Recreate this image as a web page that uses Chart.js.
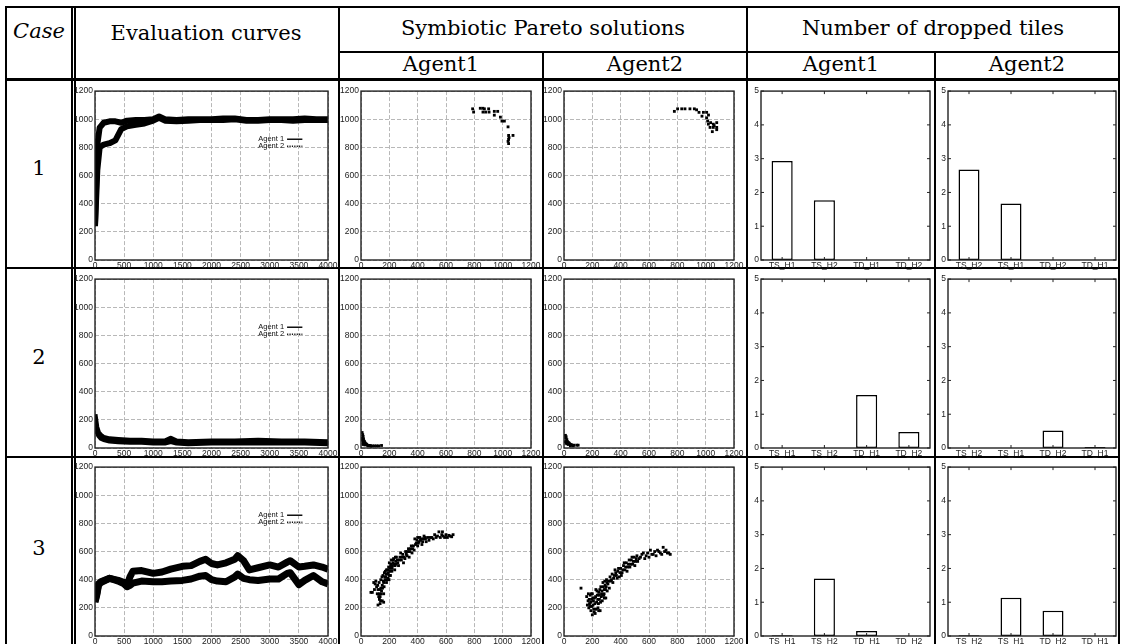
<!DOCTYPE html>
<html>
<head>
<meta charset="utf-8">
<title>Evaluation curves, symbiotic Pareto solutions and dropped tiles</title>
<script src="https://cdn.jsdelivr.net/npm/chart.js@4.4.1/dist/chart.umd.min.js"></script>
<style>
  html, body { margin: 0; padding: 0; background: #fff; }
  #page { position: relative; width: 1122px; height: 644px; overflow: hidden; font-family: "DejaVu Serif", serif; color: #000; }
  .rule { position: absolute; background: #000; }
  .head { position: absolute; font-size: 21px; line-height: 24px; white-space: nowrap; transform: translateX(-50%); }
  canvas { position: absolute; }
</style>
</head>
<body>
<div id="page">
  <!-- table rules -->
  <div class="rule" style="left:5px;top:6px;width:1115px;height:2px"></div>
  <div class="rule" style="left:338px;top:51px;width:782px;height:2px"></div>
  <div class="rule" style="left:5px;top:78px;width:1115px;height:3px"></div>
  <div class="rule" style="left:5px;top:267px;width:1115px;height:2px"></div>
  <div class="rule" style="left:5px;top:456px;width:1115px;height:2px"></div>
  <div class="rule" style="left:5px;top:6px;width:2px;height:638px"></div>
  <div class="rule" style="left:71px;top:6px;width:2px;height:638px"></div>
  <div class="rule" style="left:74px;top:6px;width:2px;height:638px"></div>
  <div class="rule" style="left:338px;top:6px;width:2px;height:638px"></div>
  <div class="rule" style="left:542px;top:52px;width:2px;height:592px"></div>
  <div class="rule" style="left:746px;top:6px;width:2px;height:638px"></div>
  <div class="rule" style="left:934px;top:52px;width:2px;height:592px"></div>
  <div class="rule" style="left:1118px;top:6px;width:2px;height:638px"></div>

  <!-- headers -->
  <div class="head" style="left:39px;top:19px;font-style:italic">Case</div>
  <div class="head" style="left:206px;top:21px">Evaluation curves</div>
  <div class="head" style="left:543px;top:16px">Symbiotic Pareto solutions</div>
  <div class="head" style="left:933px;top:16px">Number of dropped tiles</div>
  <div class="head" style="left:441px;top:52px">Agent1</div>
  <div class="head" style="left:645px;top:52px">Agent2</div>
  <div class="head" style="left:841px;top:52px">Agent1</div>
  <div class="head" style="left:1027px;top:52px">Agent2</div>
  <div class="head" style="left:39px;top:156px">1</div>
  <div class="head" style="left:39px;top:345px">2</div>
  <div class="head" style="left:39px;top:536px">3</div>
</div>

<script>
// ---- evaluation curves (episode, evaluation) ----
const case1Steps = [0, 40, 80, 150, 250, 350, 450, 550, 700, 850, 1000, 1100, 1200, 1400, 1600, 1800, 2000, 2200, 2400, 2600, 2800, 3000, 3200, 3400, 3600, 3800, 4000];
const case1Agent1 = [250, 820, 940, 975, 985, 985, 975, 990, 995, 995, 1000, 1020, 1000, 995, 1000, 1000, 1000, 1005, 1005, 995, 995, 1000, 1000, 1000, 1005, 1000, 1000];
const case1Agent2 = [240, 640, 800, 820, 830, 850, 930, 950, 960, 970, 990, 1010, 990, 985, 990, 995, 995, 995, 1000, 990, 990, 995, 995, 990, 995, 995, 995];

const case2Steps = [0, 30, 60, 100, 150, 250, 400, 600, 800, 1000, 1200, 1300, 1400, 1600, 2000, 2400, 2800, 3200, 3600, 4000];
const case2Agent1 = [240, 150, 110, 90, 75, 65, 60, 55, 55, 50, 50, 70, 50, 45, 50, 50, 55, 50, 50, 45];
const case2Agent2 = [200, 120, 90, 70, 60, 50, 45, 40, 40, 35, 35, 45, 35, 30, 35, 35, 35, 35, 35, 30];

const case3Steps = [0, 30, 60, 100, 250, 400, 500, 550, 600, 650, 800, 1000, 1150, 1300, 1500, 1650, 1800, 1900, 2000, 2100, 2250, 2400, 2450, 2550, 2650, 2800, 3000, 3150, 3300, 3350, 3500, 3600, 3750, 3900, 4000];
const case3Agent1 = [250, 300, 370, 385, 410, 395, 380, 360, 420, 460, 465, 445, 455, 475, 495, 500, 530, 545, 515, 505, 520, 545, 570, 535, 470, 485, 505, 490, 525, 535, 490, 495, 505, 490, 475];
const case3Agent2 = [240, 290, 360, 380, 410, 390, 370, 350, 360, 375, 390, 385, 385, 390, 395, 405, 425, 430, 400, 390, 385, 420, 440, 410, 400, 395, 405, 405, 445, 450, 365, 395, 430, 385, 370];

// ---- symbiotic Pareto solutions [agent reward, partner reward] ----
const pareto1Agent1 = [[788,1074],[795,1051],[842,1078],[860,1078],[871,1074],[901,1074],[861,1051],[880,1051],[904,1051],[941,1056],[965,1056],[941,1029],[984,1015],[995,987],[1012,987],[1038,946],[1042,885],[1073,885],[1042,857],[1042,827],[1038,843],[1045,870]];
const pareto1Agent2 = [[779,1056],[802,1074],[831,1074],[854,1074],[889,1074],[920,1074],[936,1067],[953,1049],[984,1049],[1007,1049],[974,1022],[1007,1010],[1014,987],[1019,965],[1035,976],[1054,965],[1078,976],[1078,942],[1054,942],[1031,942],[1047,912],[1078,926],[1060,955],[1020,1030]];
const pareto2Agent1 = [[8,110],[12,95],[15,82],[8,70],[18,65],[12,55],[20,50],[25,45],[15,40],[30,35],[35,30],[40,25],[45,20],[55,18],[65,18],[80,15],[95,15],[110,15],[125,15],[145,18],[20,30],[28,22],[50,15],[70,12],[10,60],[15,25]];
const pareto2Agent2 = [[10,90],[15,80],[12,70],[20,60],[18,50],[25,45],[30,40],[35,35],[40,30],[30,25],[50,25],[55,20],[70,20],[90,20],[100,20],[45,15],[65,15],[20,30],[8,45],[15,35]];
const pareto3Agent1 = [[70,310],[80,310],[90,380],[100,370],[110,350],[120,330],[120,220],[130,260],[130,300],[135,280],[140,340],[140,400],[145,320],[150,250],[150,360],[155,430],[160,300],[160,380],[165,450],[170,400],[175,420],[180,470],[180,380],[185,440],[190,410],[195,490],[200,430],[200,520],[205,460],[210,500],[215,540],[220,480],[225,520],[230,550],[240,500],[245,530],[250,560],[260,520],[270,540],[280,590],[290,560],[300,520],[310,550],[320,580],[330,600],[340,560],[350,620],[360,590],[370,640],[375,610],[380,690],[390,660],[400,640],[400,700],[410,670],[420,680],[430,650],[440,690],[450,700],[460,670],[480,680],[500,700],[510,690],[520,720],[540,710],[550,740],[560,700],[580,710],[600,720],[610,700],[630,710],[650,720],
    [95,330],[105,390],[115,300],[118,360],[125,280],[128,380],[133,330],[138,250],[142,300],[148,420],[152,340],[158,390],[163,350],[168,420],[172,460],[178,440],[183,400],[188,470],[193,450],[198,400],[203,480],[208,430],[213,510],[218,460],[222,500],[228,540],[233,510],[238,470],[243,560],[248,510],[255,540],[265,500],[275,560],[285,540],[295,580],[305,560],[315,600],[325,570],[335,620],[345,600],[355,640],[365,620],[385,650],[395,680],[405,660],[415,700],[425,690],[435,670],[445,710],[455,690],[470,700],[490,700],[530,700],[570,720],[590,700],[620,715],[640,705],[575,740],[160,240],[135,230]];
const pareto3Agent2 = [[120,340],[160,280],[170,250],[175,200],[180,230],[185,290],[190,180],[195,260],[200,150],[200,300],[205,220],[210,190],[215,270],[220,160],[225,330],[230,240],[235,290],[240,200],[245,310],[250,260],[255,180],[260,350],[265,300],[270,250],[275,380],[280,290],[285,330],[290,360],[295,270],[300,400],[305,320],[310,370],[320,340],[325,420],[330,390],[340,440],[350,410],[360,470],[370,430],[380,460],[390,420],[400,480],[410,450],[420,500],[430,470],[440,520],[450,490],[460,540],[470,510],[480,560],[490,530],[500,500],[510,550],[520,530],[540,560],[560,590],[570,550],[580,570],[600,560],[620,580],[640,600],[650,570],[660,610],[680,590],[700,630],[710,600],[730,590],[750,580],
    [165,220],[172,300],[178,260],[183,210],[188,240],[193,300],[198,210],[203,270],[208,250],[213,170],[218,230],[223,280],[228,190],[233,320],[238,260],[243,230],[248,290],[253,330],[258,240],[263,280],[268,320],[273,290],[278,350],[283,300],[288,390],[293,330],[298,350],[303,380],[315,390],[335,400],[345,380],[355,430],[365,450],[375,410],[385,480],[395,450],[405,430],[415,470],[425,520],[435,490],[445,460],[455,510],[465,490],[475,540],[485,510],[495,560],[505,530],[515,570],[530,550],[550,580],[590,590],[610,610],[630,580],[670,600],[690,580],[720,610],[740,590],[285,270],[245,180]];

// ---- number of dropped tiles ----
const tileNamesAgent1 = ['TS_H1', 'TS_H2', 'TD_H1', 'TD_H2'];
const tileNamesAgent2 = ['TS_H2', 'TS_H1', 'TD_H2', 'TD_H1'];
const tiles1Agent1 = [2.93, 1.77, 0, 0];
const tiles1Agent2 = [2.68, 1.67, 0, 0];
const tiles2Agent1 = [0, 0, 1.57, 0.47];
const tiles2Agent2 = [0, 0, 0.52, 0.03];
const tiles3Agent1 = [0.02, 1.70, 0.15, 0.01];
const tiles3Agent2 = [0.02, 1.13, 0.75, 0];

const tickFont = { family: 'Liberation Sans', size: 8.5 };
const page = document.getElementById('page');

// gnuplot style box round the plot, with inward tick marks if asked
const framePlugin = {
    id: 'frame',
    afterDraw(chart, args, opts) {
        const ctx = chart.ctx;
        const a = chart.chartArea;
        ctx.save();
        ctx.strokeStyle = '#222';
        ctx.lineWidth = 1.4;
        ctx.setLineDash([]);
        ctx.strokeRect(a.left, a.top, a.right - a.left, a.bottom - a.top);
        if (opts.ticks) {
            ctx.lineWidth = 1;
            ctx.beginPath();
            const xs = chart.scales.x, ys = chart.scales.y;
            xs.ticks.forEach((t, i) => {
                const px = xs.getPixelForTick(i);
                ctx.moveTo(px, a.bottom); ctx.lineTo(px, a.bottom - 3);
                ctx.moveTo(px, a.top); ctx.lineTo(px, a.top + 3);
            });
            ys.ticks.forEach((t, i) => {
                const py = ys.getPixelForTick(i);
                ctx.moveTo(a.left, py); ctx.lineTo(a.left + 3, py);
                ctx.moveTo(a.right, py); ctx.lineTo(a.right - 3, py);
            });
            ctx.stroke();
        }
        ctx.restore();
    }
};

// key drawn inside the plot like gnuplot does
const keyPlugin = {
    id: 'key',
    afterDatasetsDraw(chart, args, opts) {
        const ctx = chart.ctx;
        const xs = chart.scales.x, ys = chart.scales.y;
        ctx.save();
        ctx.font = '7.5px "Liberation Sans"';
        ctx.fillStyle = '#111';
        ctx.strokeStyle = '#111';
        ctx.textAlign = 'right';
        ctx.textBaseline = 'middle';
        chart.data.datasets.forEach((ds, i) => {
            const y = ys.getPixelForValue(opts.y[i]);
            const x = xs.getPixelForValue(opts.x);
            ctx.fillText(ds.label, x - 2, y);
            ctx.beginPath();
            ctx.lineWidth = 1.5;
            ctx.setLineDash(ds.keyDash);
            ctx.moveTo(x + 1, y);
            ctx.lineTo(xs.getPixelForValue(opts.x2), y);
            ctx.stroke();
        });
        ctx.restore();
    }
};

function addCanvas(plotLeft, plotTop, plotW, plotH, m) {
    const c = document.createElement('canvas');
    c.width = plotW + m.l + m.r;
    c.height = plotH + m.t + m.b;
    c.style.left = (plotLeft - m.l) + 'px';
    c.style.top = (plotTop - m.t) + 'px';
    page.appendChild(c);
    return c;
}

function linearAxis(min, max, step, size, horizontal, showGrid) {
    return {
        type: 'linear',
        min: min,
        max: max,
        afterFit(scale) {
            if (horizontal) scale.height = size; else scale.width = size;
        },
        ticks: {
            stepSize: step,
            font: tickFont,
            color: '#222',
            padding: horizontal ? 1 : 2,
            maxRotation: 0,
            autoSkip: false,
            callback: (v) => String(v)
        },
        grid: { display: showGrid, color: '#b8b8b8', lineWidth: 1, drawTicks: false },
        border: { display: false, dash: [4, 2] }
    };
}

function evalChart(left, top, steps, agent1, agent2, lw) {
    const ctx = addCanvas(left, top, 233, 170, { l: 24, t: 6, r: 12, b: 14 });
    const line = (vals) => steps.map((x, i) => ({ x: x, y: vals[i] }));
    new Chart(ctx, {
        type: 'scatter',
        data: {
            datasets: [{
                label: 'Agent 1',
                data: line(agent1),
                showLine: true,
                borderColor: '#000',
                borderWidth: lw,
                borderJoinStyle: 'round',
                pointRadius: 0,
                keyDash: []
            }, {
                label: 'Agent 2',
                data: line(agent2),
                showLine: true,
                borderColor: '#000',
                borderWidth: lw,
                borderJoinStyle: 'round',
                pointRadius: 0,
                keyDash: [1.2, 1.2]
            }]
        },
        options: {
            responsive: false,
            animation: false,
            events: [],
            layout: { padding: { top: 6, right: 12 } },
            scales: {
                x: linearAxis(0, 4000, 500, 14, true, true),
                y: linearAxis(0, 1200, 200, 24, false, true)
            },
            plugins: {
                legend: { display: false },
                tooltip: { enabled: false },
                frame: {},
                key: { x: 3280, x2: 3560, y: [858, 808] }
            }
        },
        plugins: [framePlugin, keyPlugin]
    });
}

function paretoChart(left, top, points) {
    const ctx = addCanvas(left, top, 170, 170, { l: 24, t: 6, r: 12, b: 14 });
    new Chart(ctx, {
        type: 'scatter',
        data: {
            datasets: [{
                data: points.map(p => ({ x: p[0], y: p[1] })),
                pointStyle: 'rect',
                pointRadius: 2,
                backgroundColor: '#000',
                borderColor: '#000',
                borderWidth: 0
            }]
        },
        options: {
            responsive: false,
            animation: false,
            events: [],
            layout: { padding: { top: 6, right: 12 } },
            scales: {
                x: linearAxis(0, 1200, 200, 14, true, true),
                y: linearAxis(0, 1200, 200, 24, false, true)
            },
            plugins: {
                legend: { display: false },
                tooltip: { enabled: false },
                frame: {}
            }
        },
        plugins: [framePlugin]
    });
}

function tilesChart(left, top, width, names, values) {
    const ctx = addCanvas(left, top, width, 170, { l: 12, t: 6, r: 4, b: 14 });
    new Chart(ctx, {
        type: 'bar',
        data: {
            labels: names,
            datasets: [{
                data: values,
                backgroundColor: '#fff',
                borderColor: '#000',
                borderWidth: 1.5,
                borderSkipped: false,
                barPercentage: 0.5,
                categoryPercentage: 1
            }]
        },
        options: {
            responsive: false,
            animation: false,
            events: [],
            layout: { padding: { top: 6, right: 4 } },
            scales: {
                x: {
                    type: 'category',
                    afterFit(scale) { scale.height = 14; },
                    ticks: { font: tickFont, color: '#222', padding: 1, maxRotation: 0, autoSkip: false },
                    grid: { display: false, drawTicks: false },
                    border: { display: false }
                },
                y: linearAxis(0, 5, 1, 12, false, false)
            },
            plugins: {
                legend: { display: false },
                tooltip: { enabled: false },
                frame: { ticks: true }
            }
        },
        plugins: [framePlugin]
    });
}

const rowTops = [90, 278, 466];

evalChart(95, rowTops[0], case1Steps, case1Agent1, case1Agent2, 6);
evalChart(95, rowTops[1], case2Steps, case2Agent1, case2Agent2, 5);
evalChart(95, rowTops[2], case3Steps, case3Agent1, case3Agent2, 7);

paretoChart(361, rowTops[0], pareto1Agent1);
paretoChart(564, rowTops[0], pareto1Agent2);
paretoChart(361, rowTops[1], pareto2Agent1);
paretoChart(564, rowTops[1], pareto2Agent2);
paretoChart(361, rowTops[2], pareto3Agent1);
paretoChart(564, rowTops[2], pareto3Agent2);

tilesChart(761, rowTops[0], 169, tileNamesAgent1, tiles1Agent1);
tilesChart(948, rowTops[0], 168, tileNamesAgent2, tiles1Agent2);
tilesChart(761, rowTops[1], 169, tileNamesAgent1, tiles2Agent1);
tilesChart(948, rowTops[1], 168, tileNamesAgent2, tiles2Agent2);
tilesChart(761, rowTops[2], 169, tileNamesAgent1, tiles3Agent1);
tilesChart(948, rowTops[2], 168, tileNamesAgent2, tiles3Agent2);
</script>
</body>
</html>
